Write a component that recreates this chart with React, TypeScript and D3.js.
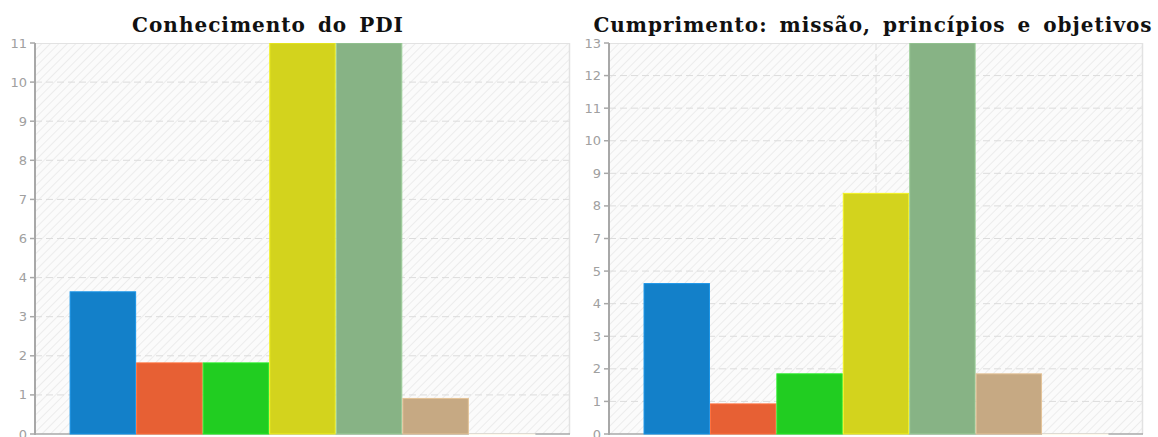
import React from "react";
import * as d3 from "d3";

const categories = ["A", "B", "C", "D", "E", "F", "G"];
const colors = ["#1380c9", "#e76034", "#21cd21", "#d3d31d", "#87b385", "#c6a983", "#f6d8cc"];
const leftTitle = "Conhecimento do PDI";
const rightTitle = "Cumprimento: missão, princípios e objetivos";
const leftValues = [4, 2, 2, 11, 11, 1, 0];
const rightValues = [5, 1, 2, 8, 13, 2, 0];
const leftMax = 11;
const rightMax = 13;
const leftTickIntervals = 10;
const rightTickIntervals = 12;

type PanelProps = {
  id: string;
  x0: number;
  x1: number;
  title: string;
  titleX: number;
  values: number[];
  max: number;
  intervals: number;
};

const Y_TOP = 43;
const Y_BOTTOM = 434;

function Panel({ id, x0, x1, title, titleX, values, max, intervals }: PanelProps) {
  const y = d3.scaleLinear().domain([0, max]).range([Y_BOTTOM, Y_TOP]);
  const x = d3.scaleBand<string>().domain(categories).range([x0, x1]).paddingInner(0).paddingOuter(0.52);
  const ticks = d3.range(0, intervals + 1).map((i) => (i * max) / intervals);
  const midX = (x0 + x1) / 2;
  return (
    <g>
      <defs>
        <pattern id={`hatch-${id}`} patternUnits="userSpaceOnUse" width={6} height={6} patternTransform="rotate(45)">
          <rect width={6} height={6} fill="#fbfbfb" />
          <line x1={0} y1={0} x2={0} y2={6} stroke="#ececec" strokeWidth={2} />
        </pattern>
        <clipPath id={`clip-${id}`}>
          <rect x={x0} y={Y_TOP} width={x1 - x0} height={Y_BOTTOM - Y_TOP + 2} />
        </clipPath>
      </defs>
      <rect x={x0} y={Y_TOP} width={x1 - x0} height={Y_BOTTOM - Y_TOP} fill={`url(#hatch-${id})`} />
      {ticks.slice(1, -1).map((t, i) => (
        <line key={i} x1={x0} x2={x1} y1={y(t)} y2={y(t)} stroke="#dcdcdc" strokeDasharray="7,4" strokeWidth={1} />
      ))}
      <line x1={midX} x2={midX} y1={Y_TOP} y2={Y_BOTTOM} stroke="#dcdcdc" strokeDasharray="7,4" strokeWidth={1} />
      <line x1={x0} x2={x1} y1={Y_TOP + 0.5} y2={Y_TOP + 0.5} stroke="#e2e2e2" strokeWidth={1} />
      <line x1={x1 - 0.5} x2={x1 - 0.5} y1={Y_TOP} y2={Y_BOTTOM} stroke="#e2e2e2" strokeWidth={1.5} />
      <line x1={x0} x2={x1} y1={Y_BOTTOM} y2={Y_BOTTOM} stroke="#a8a8a8" strokeWidth={1.5} />
      <g clipPath={`url(#clip-${id})`}>
        {categories.map((c, i) => {
          const v = values[i];
          const top = y(v);
          const col = d3.color(colors[i])!;
          return (
            <rect
              key={c}
              x={x(c)! + 0.5}
              y={top}
              width={x.bandwidth() - 1}
              height={Math.max(Y_BOTTOM - top, 0.5)}
              fill={colors[i]}
              stroke={col.brighter(0.4).formatHex()}
              strokeWidth={1}
            />
          );
        })}
      </g>
      <line x1={x0} x2={x0} y1={Y_TOP} y2={Y_BOTTOM + 1} stroke="#a8a8a8" strokeWidth={2} />
      {ticks.map((t, i) => (
        <g key={i} transform={`translate(0,${y(t)})`}>
          <line x1={x0 - 5} x2={x0} y1={0} y2={0} stroke="#a8a8a8" strokeWidth={1.5} />
          <text x={x0 - 8} y={0} dy="0.35em" textAnchor="end" fontFamily="DejaVu Sans" fontSize={13} fill="#a0a0a0">
            {Math.round(t)}
          </text>
        </g>
      ))}
      <text
        x={titleX}
        y={32}
        textAnchor="middle"
        fontFamily="DejaVu Serif"
        fontWeight="bold"
        fontSize={20}
        letterSpacing={1}
        wordSpacing={4}
        fill="#111"
      >
        {title}
      </text>
    </g>
  );
}

export default function App() {
  return (
    <svg width={1158} height={437} style={{ position: "absolute", left: 0, top: 0, background: "#fff" }}>
      <Panel id="l" x0={35} x1={570} title={leftTitle} titleX={268} values={leftValues} max={leftMax} intervals={leftTickIntervals} />
      <Panel id="r" x0={609} x1={1143} title={rightTitle} titleX={873} values={rightValues} max={rightMax} intervals={rightTickIntervals} />
    </svg>
  );
}
